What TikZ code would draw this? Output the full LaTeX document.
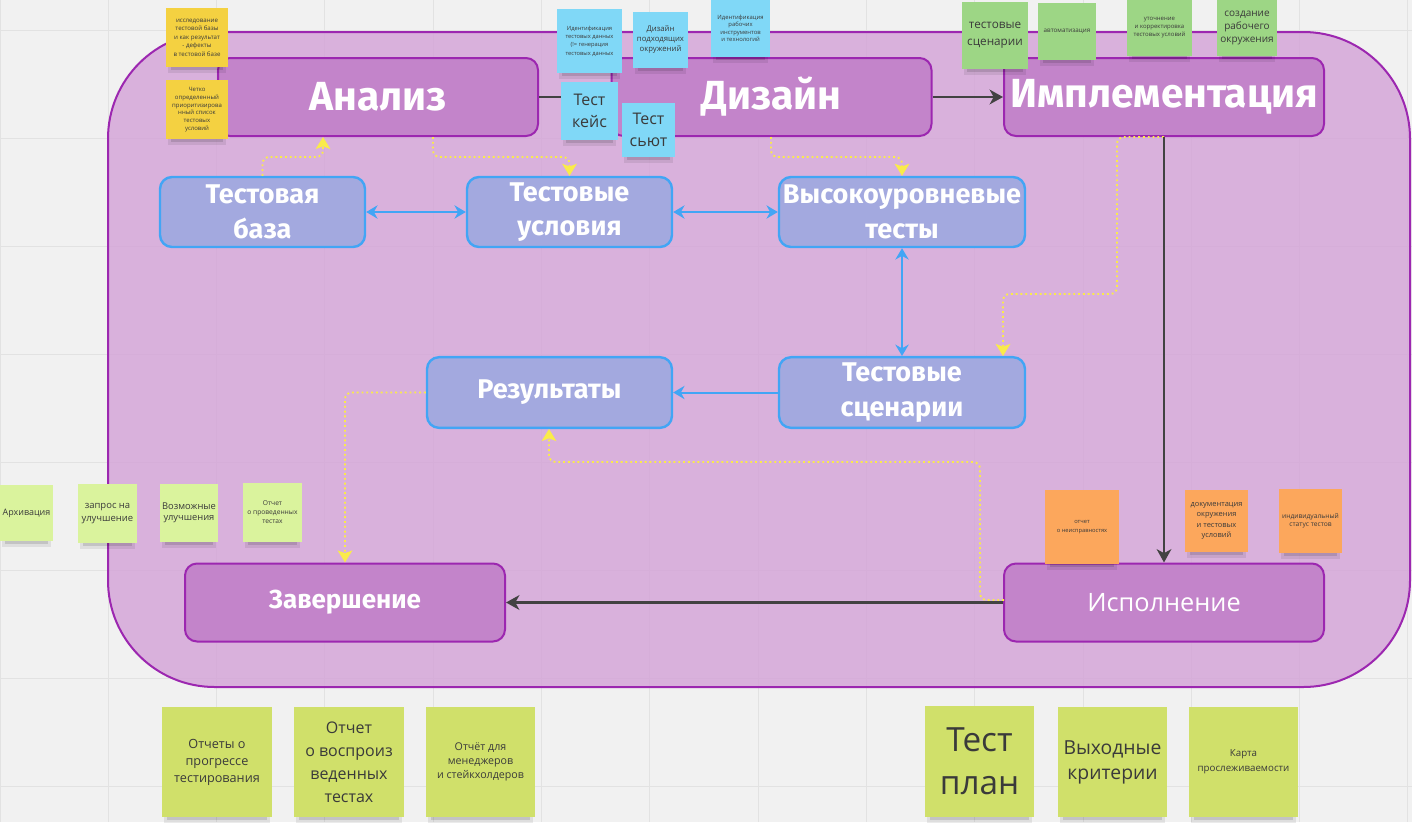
\documentclass[tikz,border=0pt]{standalone}
\usepackage{fontspec}
\setmainfont{Open Sans}
\newfontfamily\boxfont{Fira Sans}
\usetikzlibrary{arrows.meta}
\definecolor{bg}{HTML}{F1F1F1}
\definecolor{gridc}{HTML}{E2E2E2}
\definecolor{regfill}{HTML}{D3A2D7}
\definecolor{pborder}{HTML}{9C27B0}
\definecolor{pfill}{HTML}{C384CA}
\definecolor{bfill}{HTML}{A3A9DF}
\definecolor{bborder}{HTML}{42A5F5}
\definecolor{darkline}{HTML}{424242}
\definecolor{ylw}{HTML}{FAEB4A}
\definecolor{sYellow}{HTML}{F4D141}
\definecolor{sBlue}{HTML}{80D8F7}
\definecolor{sGreen}{HTML}{9DD685}
\definecolor{sLime}{HTML}{DAF39D}
\definecolor{sOrange}{HTML}{FCA75C}
\definecolor{sOlive}{HTML}{D0E06A}
\definecolor{stxt}{HTML}{3A3A3A}
\newcommand{\stk}[8]{%
  \fill[black,opacity=0.08] ({#2+2},{#5-6}) rectangle ({#4-2},{#5+6});
  \fill[black,opacity=0.12] ({#2+5},{#5-3}) rectangle ({#4-5},{#5+3});
  \node[sticky, fill=#6, minimum width={(#4-#2)*0.75}, minimum height={(#5-#3)*0.75}, font={#7}] (#1) at ({(#2+#4)/2},{(#3+#5)/2}) {#8};
}
\begin{document}
\begin{tikzpicture}[x=0.75pt,y=-0.75pt,
  stage/.style={draw=pborder, fill=pfill, line width=1.5pt, rounded corners=9pt,
    minimum width=240pt, minimum height=58.5pt, text=white, inner sep=0pt},
  stagebig/.style={stage, font=\boxfont\bfseries\fontsize{30.5}{32}\selectfont},
  bluebox/.style={draw=bborder, fill=bfill, line width=1.8pt, rounded corners=9pt,
    minimum height=52.5pt, text=white, align=center, inner sep=0pt,
    font=\boxfont\bfseries\fontsize{20.3}{26}\selectfont},
  sticky/.style={inner sep=1pt, align=center, text=stxt},
  darr/.style={draw=darkline, line width=1.8pt, -{Stealth[length=10pt,width=11pt,inset=3pt]}},
  barr/.style={draw=bborder, line width=1.5pt, {Stealth[length=8.5pt,width=10pt]}-{Stealth[length=8.5pt,width=10pt]}},
  barrone/.style={draw=bborder, line width=1.5pt, -{Stealth[length=8.5pt,width=10pt]}},
  ydot/.style={draw=ylw, line width=1.4pt, dash pattern=on 1.4pt off 2.2pt, rounded corners=5pt,
    -{Stealth[length=9pt,width=11pt,inset=2pt,fill=ylw]}}
]
\useasboundingbox (0,0) rectangle (1412,822);
\fill[bg] (0,0) rectangle (1412,822);
\foreach \i in {0,...,13} \draw[gridc, line width=0.75pt] ({\i*108.3},0) -- ({\i*108.3},822);
\foreach \j in {0,...,7} \draw[gridc, line width=0.75pt] (0,{30+\j*108}) -- (1412,{30+\j*108});

% big region
\draw[draw=pborder, fill=regfill, fill opacity=0.8, line width=1.5pt, rounded corners=80pt]
  (108,32) rectangle (1410,687);

% stage boxes
\node[stagebig] (ana) at (378,97) {Анализ};
\node[stagebig] (diz) at (771.5,97) {Дизайн};
\node[stagebig] (imp) at (1164,97) {Имплементация};
\node[stage, font=\boxfont\bfseries\fontsize{19.5}{22}\selectfont] (zav) at (345,602.5) {Завершение};
\node[stage, font=\fontsize{19}{22}\selectfont] (isp) at (1164,602.5) {Исполнение};

% blue boxes
\node[bluebox, minimum width=153.75pt] (baza) at (262.5,212) {Тестовая\\база};
\node[bluebox, minimum width=153.75pt] (usl) at (569.5,212) {Тестовые\\условия};
\node[bluebox, minimum width=184.5pt] (vys) at (902,212) {Высокоуровневые\\тесты};
\node[bluebox, minimum width=184.5pt, minimum height=53pt] (scen) at (902,392.5) {Тестовые\\сценарии};
\node[bluebox, minimum width=183.75pt, minimum height=53pt] (res) at (549.5,392.5) {Результаты};

% yellow dotted connectors
\draw[ydot] (baza.north) |- (323,157) -- (323,0 |- ana.south);
\draw[ydot] (433,0 |- ana.south) |- (569.5,157) -- (usl.north);
\draw[ydot] (771,0 |- diz.south) |- (902,157) -- (vys.north);
\draw[ydot] (imp.south) -- (1117,0 |- imp.south) |- (1003,294) -- (1003,0 |- scen.north);
\draw[ydot] (res.west) -| (345,0 |- zav.north);
\draw[ydot] (1004,600) -- (980,600) |- (549,462) -- (549,0 |- res.south);

% blue arrows
\draw[barr] (baza.east) -- (usl.west);
\draw[barr] (usl.east) -- (vys.west);
\draw[barr] (vys.south) -- (scen.north);
\draw[barrone] (scen.west) -- (res.east);

% dark arrows
\draw[darr] (ana.east) -- (diz.west);
\draw[darr] (diz.east) -- (imp.west);
\draw[darr] (imp.south) -- (isp.north);
\draw[darr] (isp.west) -- (zav.east);

% stickies: yellow
\stk{y1}{166}{8}{228}{67}{sYellow}{\fontsize{4.6}{6.4}\selectfont}{исследование\\тестовой базы\\и как результат\\- дефекты\\в тестовой базе}
\stk{y2}{166}{80}{228}{139}{sYellow}{\fontsize{4.5}{5.8}\selectfont}{Четко\\определенный\\приоритизирова\\нный список\\тестовых\\условий}
% blue
\stk{b1}{557}{9}{622}{73}{sBlue}{\fontsize{4.3}{6.3}\selectfont}{Идентификация\\тестовых данных\\(!= генерация\\тестовых данных}
\stk{b2}{633}{12}{688}{68}{sBlue}{\fontsize{5.8}{7.5}\selectfont}{Дизайн\\подходящих\\окружений}
\stk{b3}{711}{0}{770}{57}{sBlue}{\fontsize{4.4}{5.6}\selectfont}{Идентификация\\рабочих\\инструментов\\и технологий}
\stk{b4}{561}{82}{618}{140}{sBlue}{\fontsize{12}{17}\selectfont}{Тест\\кейс}
\stk{b5}{622}{103}{675}{157}{sBlue}{\fontsize{12}{17}\selectfont}{Тест\\сьют}
% green
\stk{g1}{962}{2}{1028}{69}{sGreen}{\fontsize{8.8}{12.7}\selectfont}{тестовые\\сценарии}
\stk{g2}{1038}{3}{1096}{60}{sGreen}{\fontsize{4.7}{6}\selectfont}{автоматизация}
\stk{g3}{1127}{0}{1192}{56}{sGreen}{\fontsize{4.5}{6}\selectfont}{уточнение\\и корректировка\\тестовых условий}
\stk{g4}{1217}{0}{1277}{56}{sGreen}{\fontsize{7.5}{9.4}\selectfont}{создание\\рабочего\\окружения}
% lime
\stk{l1}{0}{485}{53}{541}{sLime}{\fontsize{6.7}{8}\selectfont}{Архивация}
\stk{l2}{78}{484}{137}{543}{sLime}{\fontsize{7.1}{10}\selectfont}{запрос на\\улучшение}
\stk{l3}{160}{484}{218}{542}{sLime}{\fontsize{7}{8.3}\selectfont}{Возможные\\улучшения}
\stk{l4}{243}{483}{302}{542}{sLime}{\fontsize{5}{6.8}\selectfont}{Отчет\\о проведенных\\тестах}
% orange
\stk{o1}{1045}{490}{1119}{564}{sOrange}{\fontsize{4.3}{6.7}\selectfont}{отчет\\о неисправностях}
\stk{o2}{1185}{490}{1248}{552}{sOrange}{\fontsize{5.6}{7.9}\selectfont}{документация\\окружения\\и тестовых\\условий}
\stk{o3}{1279}{489}{1342}{553}{sOrange}{\fontsize{5}{6}\selectfont}{индивидуальный\\статус тестов}
% bottom olive
\stk{m1}{162}{707}{272}{817}{sOlive}{\fontsize{9.5}{12.7}\selectfont}{Отчеты о\\прогрессе\\тестирования}
\stk{m2}{294}{707}{404}{817}{sOlive}{\fontsize{12}{17.2}\selectfont}{Отчет\\о воспроиз\\веденных\\тестах}
\stk{m3}{426}{707}{535}{817}{sOlive}{\fontsize{8}{10.5}\selectfont}{Отчёт для\\менеджеров\\и стейкхолдеров}
\stk{m4}{925}{706}{1034}{817}{sOlive}{\fontsize{25}{32}\selectfont}{Тест\\план}
\stk{m5}{1058}{707}{1167}{817}{sOlive}{\fontsize{14.5}{18.7}\selectfont}{Выходные\\критерии}
\stk{m6}{1189}{707}{1298}{817}{sOlive}{\fontsize{7.3}{11}\selectfont}{Карта\\прослеживаемости}
\end{tikzpicture}
\end{document}
